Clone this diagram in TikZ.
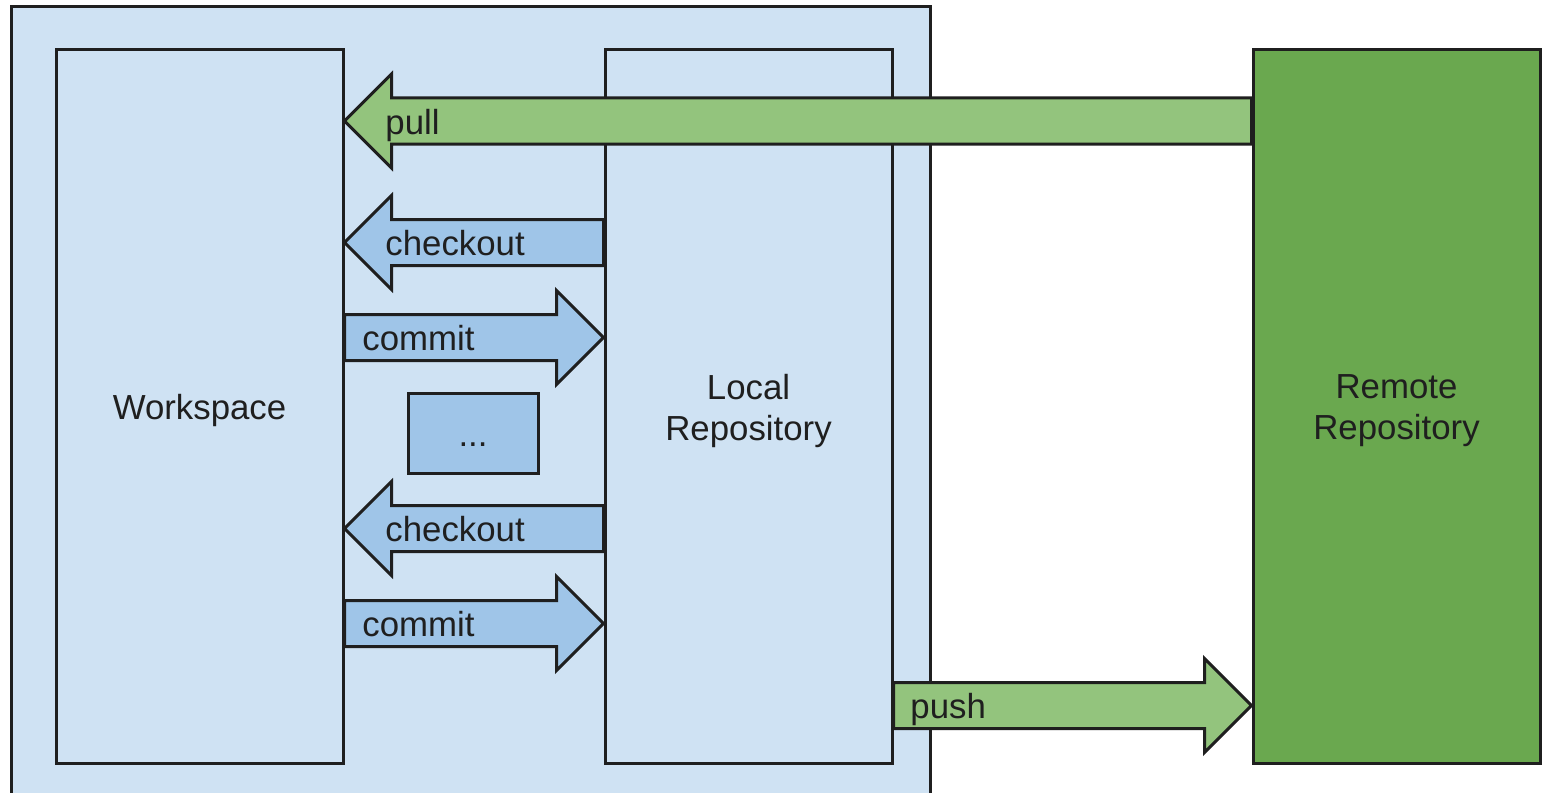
\documentclass[tikz,border=0pt]{standalone}
\usepackage{fontspec}
\setmainfont{Liberation Sans}
\usetikzlibrary{calc}
\definecolor{paleblue}{HTML}{CFE2F3}
\definecolor{midblue}{HTML}{9FC5E8}
\definecolor{lightgreen}{HTML}{93C47D}
\definecolor{darkgreen}{HTML}{6AA84F}
\definecolor{ink}{HTML}{1F1F1F}
\newcommand\fatarrow[4]{% tail, tip, direction (+1 right, -1 left), fill colour
  \draw[arrowline, fill=#4] let \p1=(#1), \p2=(#2) in
    (\x1,\y1+11.5pt) -- (\x2-#3*23.5pt,\y1+11.5pt) -- (\x2-#3*23.5pt,\y1+23.5pt)
    -- (\x2,\y2) -- (\x2-#3*23.5pt,\y1-23.5pt) -- (\x2-#3*23.5pt,\y1-11.5pt)
    -- (\x1,\y1-11.5pt) -- cycle;}
\begin{document}
\begin{tikzpicture}[x=0.5pt,y=-0.5pt,
  every node/.style={font=\fontsize{17.4}{20.5}\selectfont, text=ink},
  box/.style={draw=ink, line width=1.5pt, rectangle, inner sep=0pt},
  txt/.style={align=center, inner sep=0pt},
  arrowline/.style={draw=ink, line width=1.5pt, line join=miter},
  lbl/.style={anchor=base west, inner sep=0pt}]
\useasboundingbox (0,0) rectangle (1545,792);
\fill[white] (0,0) rectangle (1545,792);
% containers
\node[box, fill=paleblue, minimum width=459.5pt, minimum height=401.5pt] (env) at (470.5,408.5) {};
\node[box, fill=paleblue, minimum width=143.5pt, minimum height=356.5pt] (ws) at (199.5,406.5) {};
\node[box, fill=paleblue, minimum width=143.5pt, minimum height=356.5pt] (local) at (748.5,406.5) {};
\node[box, fill=darkgreen, minimum width=143.5pt, minimum height=356.5pt] (remote) at (1396.5,406.5) {};
\node[box, fill=midblue, minimum width=65pt, minimum height=40pt] (dots) at (473,433) {};
\node[txt] (wsT) at ($(ws.center)+(0,4)$) {Workspace};
\node[txt] (localT) at ($(local.center)+(0,4)$) {Local\\Repository};
\node[txt] (remoteT) at ($(remote.center)+(0,4)$) {Remote\\Repository};
\node[txt, anchor=base] (dotsT) at ($(dots.center)+(0,13)$) {...};
% connector end points
\coordinate (pullT) at (remote.west |- 0,121);
\coordinate (pullH) at (ws.east |- 0,121);
\coordinate (co1T) at (local.west |- 0,242.5);
\coordinate (co1H) at (ws.east |- 0,242.5);
\coordinate (cm1T) at (ws.east |- 0,337.5);
\coordinate (cm1H) at (local.west |- 0,337.5);
\coordinate (co2T) at (local.west |- 0,528.5);
\coordinate (co2H) at (ws.east |- 0,528.5);
\coordinate (cm2T) at (ws.east |- 0,623.5);
\coordinate (cm2H) at (local.west |- 0,623.5);
\coordinate (pushT) at (local.east |- 0,705.5);
\coordinate (pushH) at (remote.west |- 0,705.5);
% arrows
\fatarrow{pullT}{pullH}{-1}{lightgreen}
\fatarrow{co1T}{co1H}{-1}{midblue}
\fatarrow{cm1T}{cm1H}{1}{midblue}
\fatarrow{co2T}{co2H}{-1}{midblue}
\fatarrow{cm2T}{cm2H}{1}{midblue}
\fatarrow{pushT}{pushH}{1}{lightgreen}
% labels
\node[lbl] (pullL) at (385,134) {pull};
\node[lbl] (co1L) at (385,255) {checkout};
\node[lbl] (cm1L) at (362,350) {commit};
\node[lbl] (co2L) at (385,541) {checkout};
\node[lbl] (cm2L) at (362,636) {commit};
\node[lbl] (pushL) at (910,718) {push};
\end{tikzpicture}
\end{document}
